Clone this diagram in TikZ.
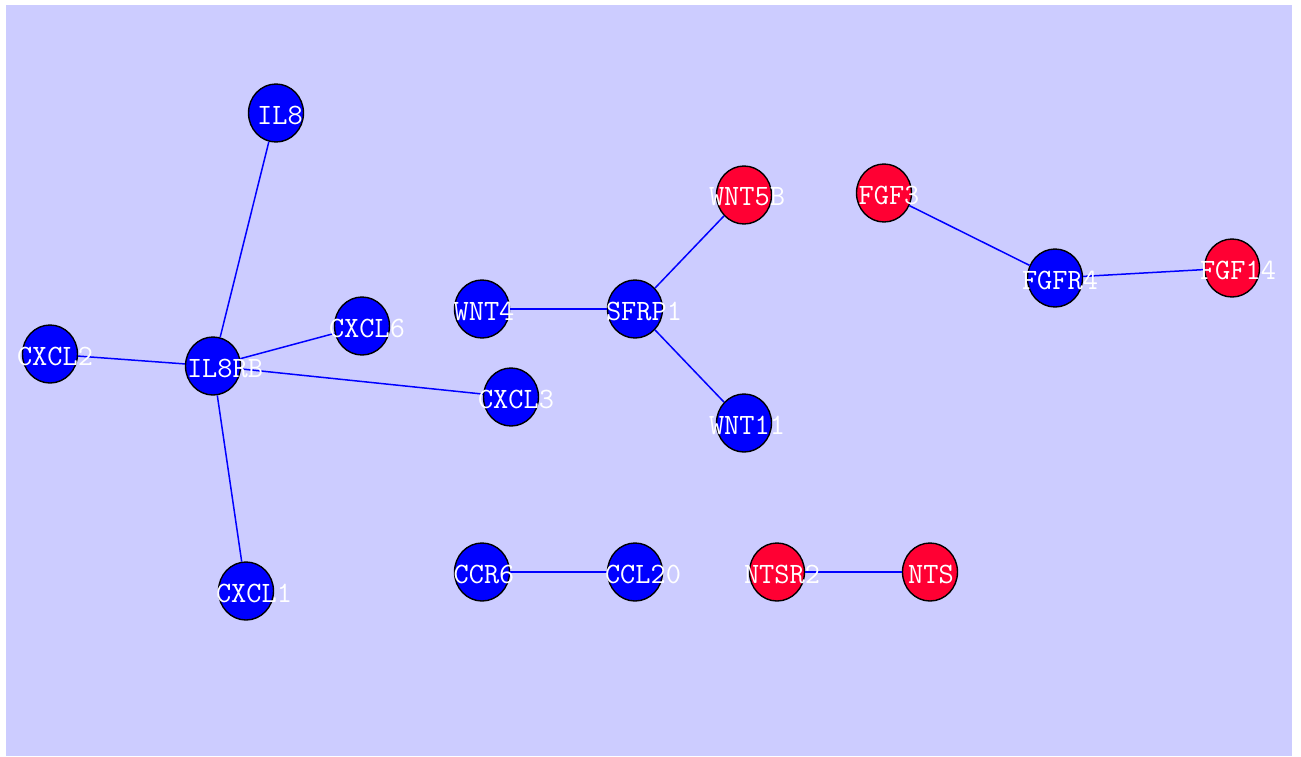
\documentclass[tikz,border=0pt]{standalone}
\usepackage{fontspec}
\usetikzlibrary{shapes.geometric}
\definecolor{bgc}{HTML}{CCCCFF}
\definecolor{nblue}{HTML}{0000FF}
\definecolor{nred}{HTML}{FF0033}
\begin{document}
\begin{tikzpicture}[x=1pt,y=-1pt,
  gnode/.style={ellipse,draw=black,line width=1.4pt,minimum width=55pt,minimum height=58pt,inner sep=0pt},
  bnode/.style={gnode,fill=nblue},
  rnode/.style={gnode,fill=nred},
  lbl/.style={text=white,font=\ttfamily\fontsize{29.5}{29.5}\selectfont,inner sep=0pt,anchor=center},
  edge/.style={draw=nblue,line width=1.5pt}]
\useasboundingbox (0,0) rectangle (1301,756);
\fill[bgc] (6,5) rectangle (1292,756);
\begin{scope}
\node[bnode] (IL8) at (276,113) {};
\node[bnode] (IL8RB) at (213,366) {};
\node[bnode] (CXCL2) at (50,354) {};
\node[bnode] (CXCL6) at (362,326) {};
\node[bnode] (CXCL3) at (511,397) {};
\node[bnode] (CXCL1) at (246,591) {};
\node[bnode] (WNT4) at (482,309) {};
\node[bnode] (SFRP1) at (635,309) {};
\node[rnode] (WNT5B) at (744,195) {};
\node[bnode] (WNT11) at (744,423) {};
\node[rnode] (FGF3) at (884,193) {};
\node[bnode] (FGFR4) at (1055,278) {};
\node[rnode] (FGF14) at (1232,268) {};
\node[bnode] (CCR6) at (482,572) {};
\node[bnode] (CCL20) at (635,572) {};
\node[rnode] (NTSR2) at (777,572) {};
\node[rnode] (NTS) at (930,572) {};
\end{scope}
\path[edge] (IL8) -- (IL8RB);
\path[edge] (CXCL2) -- (IL8RB);
\path[edge] (IL8RB) -- (CXCL6);
\path[edge] (IL8RB) -- (CXCL3);
\path[edge] (IL8RB) -- (CXCL1);
\path[edge] (WNT4) -- (SFRP1);
\path[edge] (SFRP1) -- (WNT5B);
\path[edge] (SFRP1) -- (WNT11);
\path[edge] (FGF3) -- (FGFR4);
\path[edge] (FGFR4) -- (FGF14);
\path[edge] (CCR6) -- (CCL20);
\path[edge] (NTSR2) -- (NTS);
\node[lbl] (tIL8) at ([xshift=4pt,yshift=-2pt]IL8.center) {IL8};
\node[lbl] (tIL8RB) at ([xshift=12pt,yshift=-2pt]IL8RB.center) {IL8RB};
\node[lbl] (tCXCL2) at ([xshift=5pt,yshift=-2pt]CXCL2.center) {CXCL2};
\node[lbl] (tCXCL6) at ([xshift=5pt,yshift=-2pt]CXCL6.center) {CXCL6};
\node[lbl] (tCXCL3) at ([xshift=5pt,yshift=-2pt]CXCL3.center) {CXCL3};
\node[lbl] (tCXCL1) at ([xshift=8pt,yshift=-2pt]CXCL1.center) {CXCL1};
\node[lbl] (tWNT4) at ([xshift=2pt,yshift=-2pt]WNT4.center) {WNT4};
\node[lbl] (tSFRP1) at ([xshift=9pt,yshift=-2pt]SFRP1.center) {SFRP1};
\node[lbl] (tWNT5B) at ([xshift=3pt,yshift=-2pt]WNT5B.center) {WNT5B};
\node[lbl] (tWNT11) at ([xshift=3pt,yshift=-2pt]WNT11.center) {WNT11};
\node[lbl] (tFGF3) at ([xshift=5pt,yshift=-2pt]FGF3.center) {FGF3};
\node[lbl] (tFGFR4) at ([xshift=5pt,yshift=-2pt]FGFR4.center) {FGFR4};
\node[lbl] (tFGF14) at ([xshift=6pt,yshift=-2pt]FGF14.center) {FGF14};
\node[lbl] (tCCR6) at ([xshift=2pt,yshift=-2pt]CCR6.center) {CCR6};
\node[lbl] (tCCL20) at ([xshift=8pt,yshift=-2pt]CCL20.center) {CCL20};
\node[lbl] (tNTSR2) at ([xshift=5pt,yshift=-2pt]NTSR2.center) {NTSR2};
\node[lbl] (tNTS) at ([xshift=1pt,yshift=-2pt]NTS.center) {NTS};
\end{tikzpicture}
\end{document}
